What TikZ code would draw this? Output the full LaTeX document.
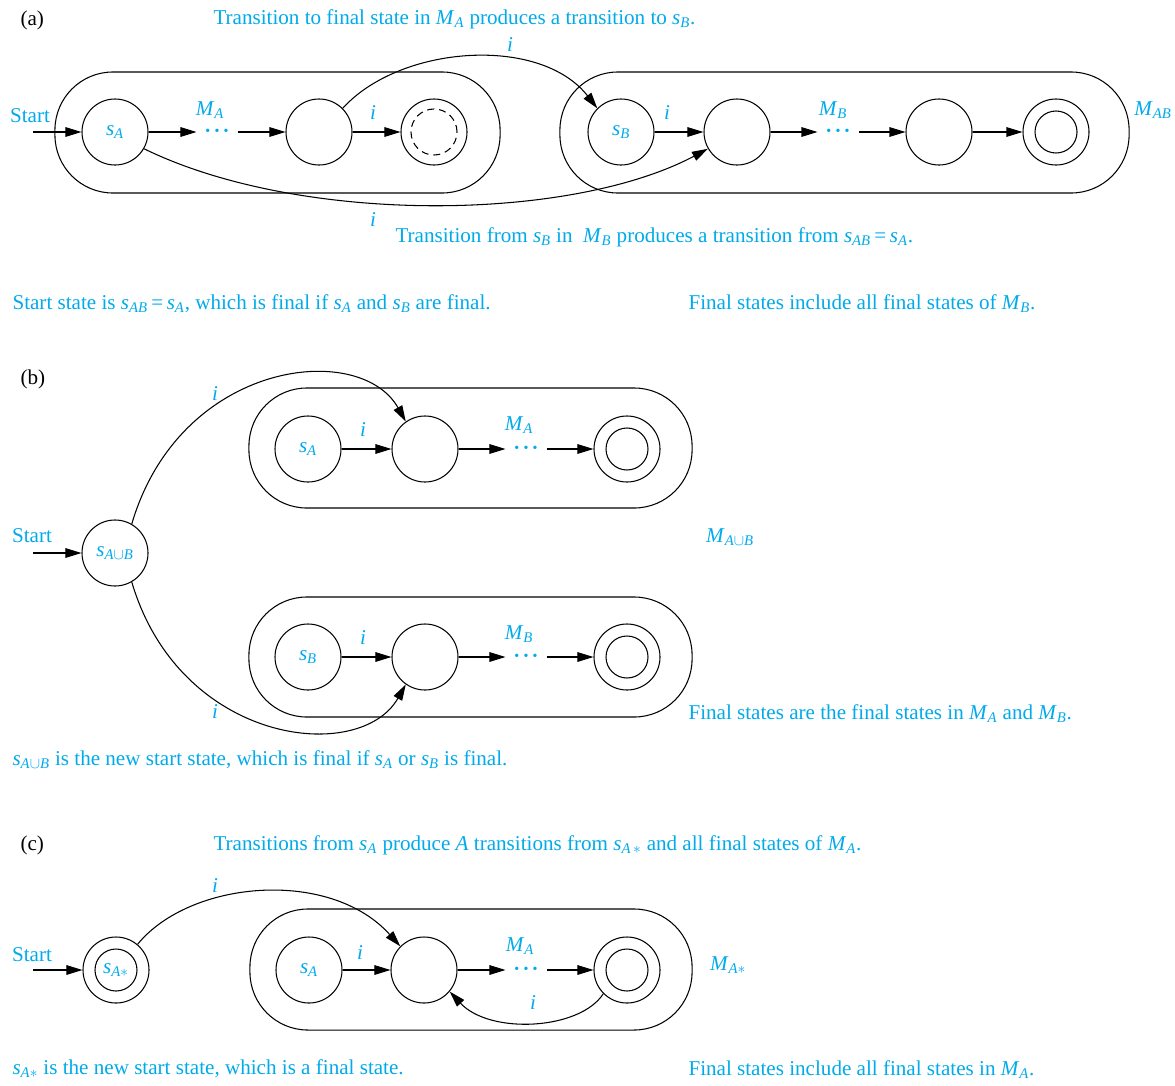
\documentclass[tikz,border=0pt]{standalone}
\usepackage{fontspec}
\setmainfont{Liberation Serif}
\usepackage{tikz}
\usetikzlibrary{arrows.meta}
\definecolor{autoCyan}{RGB}{0,170,235}
\newcommand{\itsub}[2]{\textit{#1}\textsubscript{\textit{#2}}}
\newcommand{\chaindots}{{\fontsize{10}{10}\selectfont •\kern3pt•\kern3pt•}}

\begin{document}
\begin{tikzpicture}[x=0.025cm, y=-0.025cm, line width=0.75pt,
  >={Triangle[length=0.4cm,width=0.24cm]},
  every node/.style={font=\fontsize{15}{18}\selectfont},
  stnode/.style={draw, circle, minimum size=1.65cm, inner sep=0pt, text=autoCyan},
  machine/.style={draw, rounded corners=1.45cm, minimum height=3.025cm, inner sep=0pt},
  lbl/.style={text=autoCyan, inner sep=0pt},
  note/.style={text=autoCyan, inner sep=0pt, anchor=base west},
  dotnode/.style={text=autoCyan, inner sep=0pt, minimum width=1cm}]
  \useasboundingbox (0,0) rectangle (1175,1085);

  % (a) concatenation
  \node[anchor=base west, inner sep=0pt] (capA) at (20,25) {(a)};
  \node[note] (topA) at (213,24) {Transition to final state in \itsub{M}{A} produces a transition to \itsub{s}{B}.};
  \node[machine, minimum width=11.125cm] (boxA) at (277.5,132.5) {};
  \node[machine, minimum width=14.225cm] (boxB) at (844.5,132.5) {};
  % states of M_A
  \node[stnode] (sA) at (115,132) {\itsub{s}{A}};
  \node[dotnode] (dA) at (217,132) {\chaindots};
  \node[stnode] (a2) at (319,132) {};
  \node[stnode] (fA) at (434,132) {};
  \draw[dash pattern=on 5pt off 3.5pt] (fA.center) circle[radius=0.575cm];
  % states of M_B
  \node[stnode] (sB) at (621,132) {\itsub{s}{B}};
  \node[stnode] (b2) at (737,132) {};
  \node[dotnode] (dB) at (838,132) {\chaindots};
  \node[stnode] (b3) at (939,132) {};
  \node[stnode] (fB) at (1056,132) {};
  \draw (fB.center) circle[radius=0.525cm];
  % labels
  \node[lbl] (startA) at (30,116) {Start};
  \node[lbl] (mA) at (210,110) {\itsub{M}{A}};
  \node[lbl] (iA) at (373,113) {\textit{i}};
  \node[lbl] (iTop) at (510,45) {\textit{i}};
  \node[lbl] (iBot) at (373,220) {\textit{i}};
  \node[lbl] (iB) at (667,113) {\textit{i}};
  \node[lbl] (mB) at (833,110) {\itsub{M}{B}};
  \node[lbl] (mAB) at (1153,110) {\itsub{M}{AB}};
  \node[note] (botA) at (395,242) {Transition from \itsub{s}{B} in\enspace\itsub{M}{B} produces a transition from \itsub{s}{AB}\,=\,\itsub{s}{A}.};
  \node[note] (startNote) at (12,309) {Start state is \itsub{s}{AB}\,=\,\itsub{s}{A}, which is final if \itsub{s}{A} and \itsub{s}{B} are final.};
  \node[note] (finalNote) at (688,309) {Final states include all final states of \itsub{M}{B}.};
  % arrows
  \coordinate (inA) at (33,132);
  \draw[->] (inA) -- (sA);
  \draw[->] (sA) -- (dA);
  \draw[->] (dA) -- (a2);
  \draw[->] (a2) -- (fA);
  \draw[->] (sB) -- (b2);
  \draw[->] (b2) -- (dB);
  \draw[->] (dB) -- (b3);
  \draw[->] (b3) -- (fB);
  \draw[->] (a2.45) .. controls (400,45) and (540,35) .. (sB.135);
  \draw[->] (sA.-30) .. controls (300,225) and (570,222) .. (b2.-150);

  % (b) union
  \node[anchor=base west, inner sep=0pt] (capB) at (20,384) {(b)};
  \node[machine, minimum width=11.075cm, minimum height=3cm] (boxU) at (470.5,448) {};
  \node[machine, minimum width=11.075cm, minimum height=3cm] (boxL) at (470.5,657) {};
  \node[stnode] (sU) at (115,553) {\textit{s}\textsubscript{\textit{A}$\cup$\textit{B}}};
  % upper machine
  \node[stnode] (uA1) at (308,449) {\itsub{s}{A}};
  \node[stnode] (uA2) at (425,449) {};
  \node[dotnode] (uAd) at (526,449) {\chaindots};
  \node[stnode] (uAf) at (627,449) {};
  \draw (uAf.center) circle[radius=0.525cm];
  % lower machine
  \node[stnode] (uB1) at (308,657) {\itsub{s}{B}};
  \node[stnode] (uB2) at (425,657) {};
  \node[dotnode] (uBd) at (526,657) {\chaindots};
  \node[stnode] (uBf) at (627,657) {};
  \draw (uBf.center) circle[radius=0.525cm];
  % labels
  \node[lbl] (startB) at (32,536) {Start};
  \node[lbl] (iUp) at (215,394) {\textit{i}};
  \node[lbl] (iDown) at (215,712) {\textit{i}};
  \node[lbl] (mUA) at (519,425) {\itsub{M}{A}};
  \node[lbl] (iUA) at (363,430) {\textit{i}};
  \node[lbl] (mUB) at (519,634) {\itsub{M}{B}};
  \node[lbl] (iUB) at (363,638) {\textit{i}};
  \node[lbl] (mU) at (730,537) {\textit{M}\textsubscript{\textit{A}$\cup$\textit{B}}};
  \node[note] (finalU) at (688,719) {Final states are the final states in \itsub{M}{A} and \itsub{M}{B}.};
  \node[note] (startU) at (12,765) {\textit{s}\textsubscript{\textit{A}$\cup$\textit{B}} is the new start state, which is final if \itsub{s}{A} or \itsub{s}{B} is final.};
  % arrows
  \coordinate (inB) at (33,553);
  \draw[->] (inB) -- (sU);
  \draw[->] (uA1) -- (uA2);
  \draw[->] (uA2) -- (uAd);
  \draw[->] (uAd) -- (uAf);
  \draw[->] (uB1) -- (uB2);
  \draw[->] (uB2) -- (uBd);
  \draw[->] (uBd) -- (uBf);
  \draw[->] (sU.60) .. controls (180,360) and (360,340) .. (uA2.125);
  \draw[->] (sU.-60) .. controls (180,745) and (360,765) .. (uB2.-125);

  % (c) closure
  \node[anchor=base west, inner sep=0pt] (capC) at (20,850) {(c)};
  \node[note] (topC) at (213,850) {Transitions from \itsub{s}{A} produce \textit{A} transitions from \textit{s}\textsubscript{\textit{A}\,$\ast$} and all final states of \itsub{M}{A}.};
  \node[stnode] (sS) at (116,970) {\textit{s}\textsubscript{\textit{A}$\ast$}};
  \draw (sS.center) circle[radius=0.525cm];
  \node[machine, minimum width=11.05cm] (boxC) at (471,969.5) {};
  \node[stnode] (c1) at (309,970) {\itsub{s}{A}};
  \node[stnode] (c2) at (424,970) {};
  \node[dotnode] (cd) at (526,970) {\chaindots};
  \node[stnode] (cf) at (627,970) {};
  \draw (cf.center) circle[radius=0.525cm];
  % labels
  \node[lbl] (startC) at (32,955) {Start};
  \node[lbl] (iS) at (215,886) {\textit{i}};
  \node[lbl] (mCA) at (520,946) {\itsub{M}{A}};
  \node[lbl] (iC) at (360,953) {\textit{i}};
  \node[lbl] (mS) at (728,965) {\textit{M}\textsubscript{\textit{A}$\ast$}};
  \node[lbl] (iBack) at (533,1002) {\textit{i}};
  \node[note] (startS) at (12,1074) {\textit{s}\textsubscript{\textit{A}$\ast$} is the new start state, which is a final state.};
  \node[note] (finalS) at (688,1075) {Final states include all final states in \itsub{M}{A}.};
  % arrows
  \coordinate (inC) at (33,970);
  \draw[->] (inC) -- (sS);
  \draw[->] (c1) -- (c2);
  \draw[->] (c2) -- (cd);
  \draw[->] (cd) -- (cf);
  \draw[->] (sS.50) .. controls (190,880) and (330,868) .. (c2.135);
  \draw[->] (cf.-135) .. controls (580,1030) and (490,1035) .. (c2.-40);
\end{tikzpicture}
\end{document}
